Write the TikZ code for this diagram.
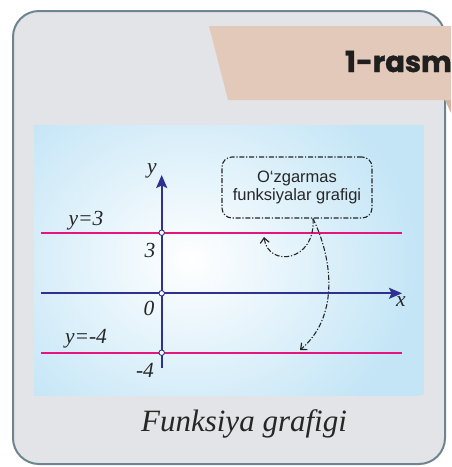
\documentclass[tikz,border=0pt]{standalone}
\usepackage{fontspec}
\setmainfont{Liberation Serif}
\newfontfamily\sansf{Liberation Sans}
\newfontfamily\popf{Poppins}[BoldFeatures={FakeBold=1.3}]
\usetikzlibrary{arrows.meta}
\definecolor{framefill}{HTML}{E3E4E8}
\definecolor{framedraw}{HTML}{6E8591}
\definecolor{banner}{HTML}{E3C9B9}
\definecolor{bannershadow}{HTML}{D2B3A0}
\definecolor{panelblue}{HTML}{C3E5F6}
\definecolor{axisblue}{HTML}{2E3192}
\definecolor{pinkline}{HTML}{E5157F}
\tikzset{
  axisline/.style={draw=axisblue, line width=1.8pt},
  constline/.style={draw=pinkline, line width=1.8pt},
  dot/.style={circle, draw=axisblue, fill=white, line width=0.9pt, inner sep=0pt, minimum size=5.5pt},
  mlabel/.style={inner sep=0pt, font=\itshape\fontsize{21.5}{21.5}\selectfont, text=black!85},
  dashdot/.style={line width=1.1pt, dash pattern=on 5pt off 1.8pt on 1.2pt off 1.8pt},
  notebox/.style={draw=black!85, dashdot, rounded corners=10pt, minimum width=150pt, minimum height=61pt, align=center, inner sep=0pt,
     font=\sansf\fontsize{16.5}{18.5}\selectfont, text=black!85},
  curvearrow/.style={draw=black!85, dashdot, -{Straight Barb[length=5pt,width=9pt,line width=1.2pt]}},
}
\begin{document}
\begin{tikzpicture}[x=1pt,y=-1pt]
\useasboundingbox (0,0) rectangle (451,467);
% outer frame
\draw[fill=framefill, draw=framedraw, line width=2pt, rounded corners=26pt] (13,11) rectangle (445,464);
% banner
\fill[bannershadow] (445,100) -- (451,100) -- (451,113) -- cycle;
\fill[banner] (209,26) -- (451,26) -- (451,100) -- (228,100) -- cycle;
\node[anchor=base east, inner sep=0pt, font=\popf\bfseries\fontsize{29}{29}\selectfont, text=black!88] (title) at (452,72) {1-rasm};
% panel
\begin{scope}
\clip (34,125) rectangle (424,395);
\fill[panelblue] (34,125) rectangle (424,395);
\shade[inner color=white, outer color=panelblue, shading=radial] (-40,60) rectangle (420,460);
\end{scope}
% coordinates
\coordinate (xl) at (41,293.3);
\coordinate (xr) at (402,293.3);
\coordinate (yb) at (161.7,368);
\coordinate (yt) at (161.7,175);
\coordinate (p3l) at (41,232.7);
\coordinate (p3r) at (402,232.7);
\coordinate (m4l) at (41,352.7);
\coordinate (m4r) at (402,352.7);
% lines
\draw[constline] (p3l) -- (p3r);
\draw[constline] (m4l) -- (m4r);
\draw[axisline, -{Stealth[length=13pt,width=11pt,inset=2.5pt]}] (xl) -- (xr);
\draw[axisline, -{Stealth[length=13pt,width=11pt,inset=2.5pt]}] (yb) -- (yt);
\node[dot] (d3) at (161.7,232.7) {};
\node[dot] (d0) at (161.7,293.3) {};
\node[dot] (d4) at (161.7,352.7) {};
% labels
\node[mlabel] (ly) at (152,171) {y};
\node[mlabel] (ly3) at (86,221) {y=3};
\node[mlabel] (l3) at (150,250) {3};
\node[mlabel] (l0) at (149,308) {0};
\node[mlabel] (lx) at (401,302) {x};
\node[mlabel] (ly4) at (86,339) {y=-4};
\node[mlabel] (lm4) at (145,370) {-4};
% note
\node[notebox] (note) at (297,187.5) {O‘zgarmas\\funksiyalar grafigi};
\coordinate (ns) at ([xshift=16pt]note.south);
\coordinate (e1) at (264,237);
\coordinate (e2) at (300,350);
\draw[curvearrow] (ns) .. controls (316,262) and (268,268) .. (e1);
\draw[curvearrow] (ns) .. controls (334,262) and (338,318) .. (e2);
% caption
\node[anchor=base, inner sep=0pt, font=\itshape\fontsize{31}{31}\selectfont, text=black!85] (cap) at (244,431) {Funksiya grafigi};
\end{tikzpicture}
\end{document}
